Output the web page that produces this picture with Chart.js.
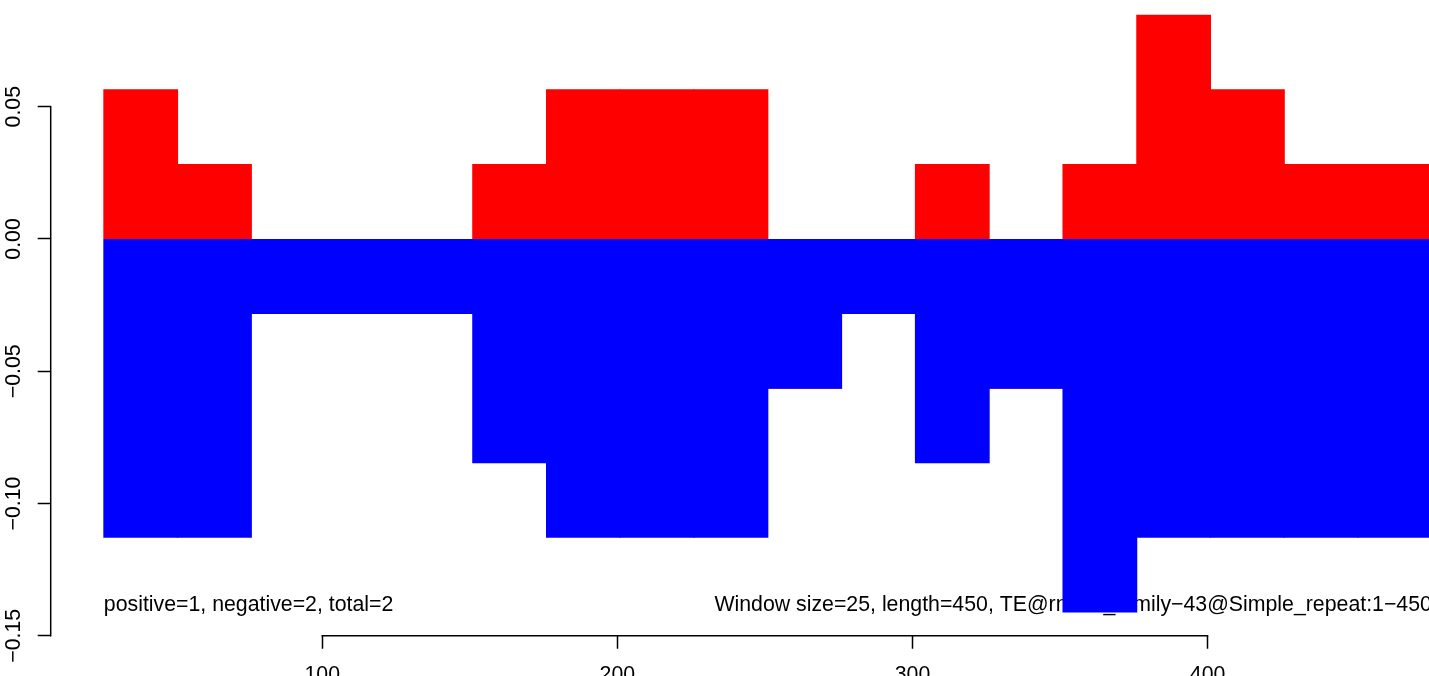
<!DOCTYPE html>
<html><head><meta charset="utf-8">
<script src="https://cdn.jsdelivr.net/npm/chart.js@4/dist/chart.umd.min.js"></script>
<style>
html,body{margin:0;padding:0;width:1429px;height:676px;overflow:hidden;background:#fff;}
#wrap{position:absolute;left:0;top:-20px;width:1500px;height:720px;}
canvas{display:block;}
</style></head><body>
<div id="wrap"><canvas id="c" width="1500" height="720"></canvas></div>
<script>
// window centres (sequence position) and the positive / negative coverage per window
const windowMid = [38.5, 63.5, 88.5, 113.5, 138.5, 163.5, 188.5, 213.5, 238.5, 263.5, 288.5, 313.5, 338.5, 363.5, 388.5, 413.5, 438.5, 463.5];
const positive = [0.0564, 0.0282, 0, 0, 0, 0.0282, 0.0564, 0.0564, 0.0564, 0, 0, 0.0282, 0, 0.0282, 0.0846, 0.0564, 0.0282, 0.0282];
const negative = [-0.1128, -0.1128, -0.0282, -0.0282, -0.0282, -0.0846, -0.1128, -0.1128, -0.1128, -0.0564, -0.0282, -0.0846, -0.0564, -0.141, -0.1128, -0.1128, -0.1128, -0.1128];
const xTickValues = [100, 200, 300, 400];
const xTickLabels = ['100', '200', '300', '400'];
const yTickValues = [-0.15, -0.10, -0.05, 0, 0.05];
const yTickLabels = ['\u22120.15', '\u22120.10', '\u22120.05', '0.00', '0.05'];
const leftNote = 'positive=1, negative=2, total=2';
const rightNote = 'Window size=25, length=450, TE@rnd\u22121_family\u221243@Simple_repeat:1\u2212450';

const FONT = '"Liberation Sans", Arial, Helvetica, sans-serif';
const FSIZE = 21.3;
Chart.defaults.font.family = FONT;
Chart.defaults.font.size = FSIZE;
Chart.defaults.color = '#000';

const rStyle = {
  id: 'rStyle',
  beforeDatasetsDraw(chart) {
    const {ctx, scales: {x, y}} = chart;
    ctx.save();
    ctx.font = FSIZE + 'px ' + FONT;
    ctx.fillStyle = '#000';
    ctx.textBaseline = 'alphabetic';
    const yy = y.getPixelForValue(-0.1406);
    ctx.textAlign = 'left';
    ctx.fillText(leftNote, x.getPixelForValue(26), yy);
    ctx.textAlign = 'right';
    ctx.fillText(rightNote, x.getPixelForValue(476), yy);
    ctx.restore();
  },
  afterDraw(chart) {
    const {ctx, scales: {x, y}, chartArea} = chart;
    ctx.save();
    ctx.strokeStyle = '#000';
    ctx.lineWidth = 1.5;
    ctx.lineCap = 'butt';
    ctx.beginPath();
    const by = chartArea.bottom;
    ctx.moveTo(x.getPixelForValue(xTickValues[0]) - 0.75, by);
    ctx.lineTo(x.getPixelForValue(xTickValues[xTickValues.length - 1]) + 0.75, by);
    const lx = chartArea.left;
    ctx.moveTo(lx, y.getPixelForValue(yTickValues[0]) + 0.75);
    ctx.lineTo(lx, y.getPixelForValue(yTickValues[yTickValues.length - 1]) - 0.75);
    ctx.stroke();
    ctx.restore();
  }
};

new Chart(document.getElementById('c'), {
  type: 'bar',
  data: {
    datasets: [
      {label: 'negative', data: windowMid.map((m, i) => ({x: m, y: negative[i]})), backgroundColor: '#0000FF'},
      {label: 'positive', data: windowMid.map((m, i) => ({x: m, y: positive[i]})), backgroundColor: '#FF0000'}
    ]
  },
  options: {
    responsive: false,
    animation: false,
    devicePixelRatio: 1,
    layout: {padding: {left: 0.7, right: 15, top: 11.4, bottom: 0}},
    plugins: {legend: {display: false}, tooltip: {enabled: false}},
    datasets: {bar: {barPercentage: 1, categoryPercentage: 1, borderWidth: 0, inflateAmount: 0.5}},
    scales: {
      x: {
        type: 'linear', min: 8, max: 494, offset: false, stacked: true,
        afterBuildTicks: s => { s.ticks = xTickValues.map(v => ({value: v})); },
        afterFit: s => { s.height = 64.25; },
        grid: {offset: false, drawOnChartArea: false, drawTicks: true, tickLength: 13, tickColor: '#000', tickWidth: 1.5},
        border: {display: false},
        ticks: {autoSkip: false, maxRotation: 0, minRotation: 0, padding: 14, color: '#000',
                callback: (v, i) => xTickLabels[i]}
      },
      y: {
        type: 'linear', min: -0.15, max: 0.0936, stacked: true,
        afterBuildTicks: s => { s.ticks = yTickValues.map(v => ({value: v})); },
        afterFit: s => { s.width = 50; },
        grid: {drawOnChartArea: false, drawTicks: true, tickLength: 13, tickColor: '#000', tickWidth: 1.5},
        border: {display: false},
        ticks: {autoSkip: false, minRotation: 90, maxRotation: 90, crossAlign: 'center', padding: -3, color: '#000',
                callback: (v, i) => yTickLabels[i]}
      }
    }
  },
  plugins: [rStyle]
});
</script>
</body></html>
